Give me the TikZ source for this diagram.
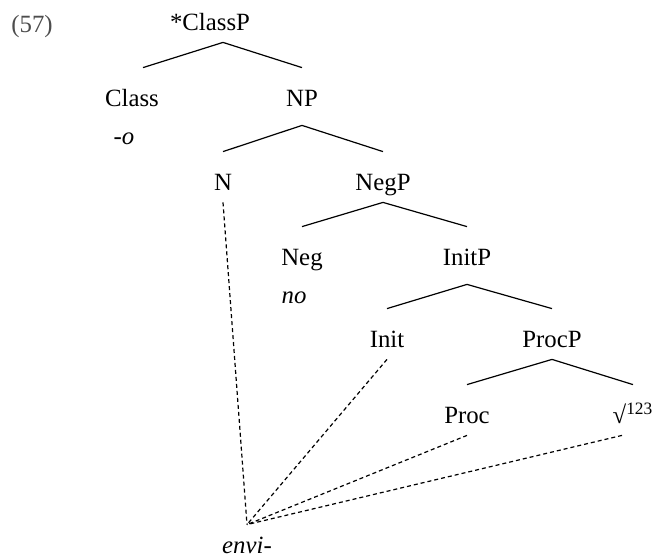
\documentclass[tikz,border=0pt]{standalone}
\usepackage{fontspec}
\setmainfont{Liberation Serif}
\usetikzlibrary{positioning}
\definecolor{exgray}{HTML}{4D4D4D}
\tikzset{
    cat/.style={
        inner sep=0pt,
        anchor=base,
        text height=19pt,
        text depth=6pt
    },
    deep/.style={text depth=9.5pt},
    word/.style={
        inner sep=0pt,
        anchor=base,
        font=\fontsize{12.4}{15}\selectfont\itshape
    },
    branch/.style={line width=0.6pt},
    link/.style={line width=0.6pt, dash pattern=on 2pt off 1.5pt}
}

\begin{document}
\begin{tikzpicture}[
    x=0.5pt, y=-0.5pt,
    font=\fontsize{12.4}{15}\selectfont
]
    \useasboundingbox (0,0) rectangle (655,558);

    % Numero
    \node[cat, text=exgray]  (ex)     at (32,32)   {(57)};

    % Categorias
    \node[cat]               (classp) at (210,30)  {*ClassP};

    \node[cat]               (class)  at (132,106) {Class};
    \node[cat, deep]         (np)     at (302,106) {NP};

    \node[cat]               (n)      at (223,190) {N};
    \node[cat]               (negp)   at (383,190) {NegP};

    \node[cat]               (neg)    at (302,265) {Neg};
    \node[cat, deep]         (initp)  at (467,265) {InitP};

    \node[cat]               (init)   at (387,347) {Init};
    \node[cat]               (procp)  at (552,347) {ProcP};

    \node[cat]               (proc)   at (467,423) {Proc};
    \node[cat]               (root)   at (633,423) {√\textsuperscript{123}};

    % Exponentes
    \node[word]              (o)      at (124,144) {-o};
    \node[word]              (no)     at (294,303) {no};
    \node[word, text height=14pt, text depth=0pt] (envi) at (247,553) {envi-};

    % Ramas
    \draw[branch] ([xshift=5.5pt]class.north) -- ([xshift=6.5pt]classp.south) -- (np.north);
    \draw[branch] (n.north) -- (np.south) -- (negp.north);
    \draw[branch] (neg.north) -- (negp.south) -- (initp.north);
    \draw[branch] (init.north) -- (initp.south) -- (procp.north);
    \draw[branch] (proc.north) -- (procp.south) -- (root.north);

    % Lineas a envi-
    \draw[link] (n.south) -- (envi.north);
    \draw[link] (init.south) -- (envi.north);
    \draw[link] (proc.south) -- (envi.north);
    \draw[link] ([xshift=-5.5pt]root.south) -- (envi.north);

\end{tikzpicture}
\end{document}
